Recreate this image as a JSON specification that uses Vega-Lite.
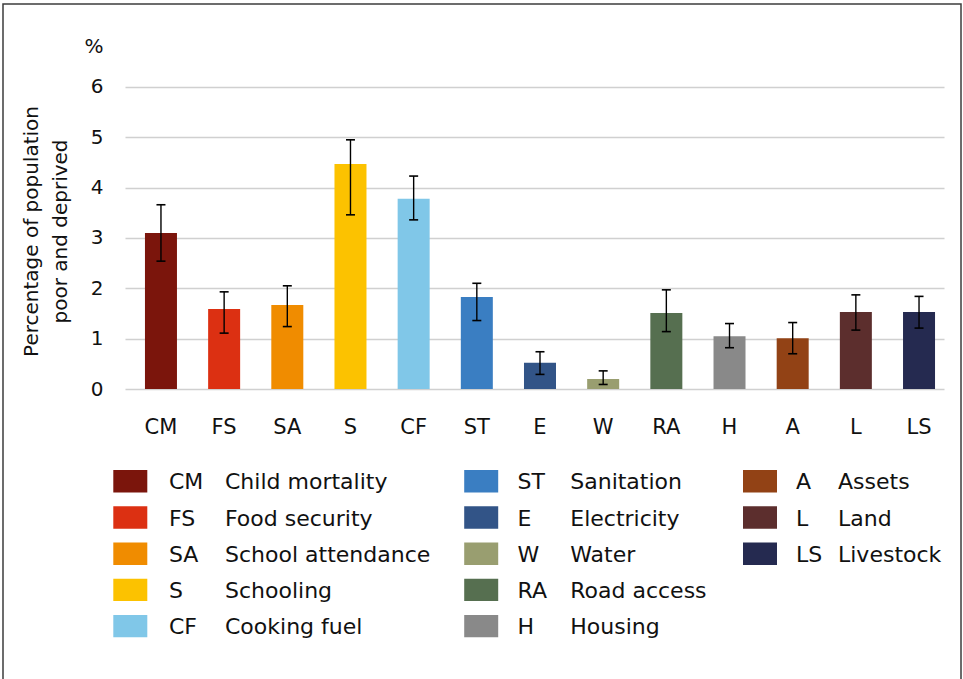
{
  "$schema": "https://vega.github.io/schema/vega-lite/v6.json",
  "width": 958,
  "height": 675,
  "autosize": "none",
  "padding": {"left": 3, "top": 4, "right": 2, "bottom": 0},
  "background": "white",
  "config": {
    "font": "DejaVu Sans",
    "view": {"stroke": "#3c3c3c", "strokeWidth": 1.5, "strokeDash": [1633, 958, 676, 0]},
    "text": {"color": "#111111"}
  },
  "data": {
    "values": [
      {"code": "CM", "name": "Child mortality", "value": 3.10, "lo": 2.54, "hi": 3.66, "col": 1, "row": 1},
      {"code": "FS", "name": "Food security", "value": 1.59, "lo": 1.11, "hi": 1.93, "col": 1, "row": 2},
      {"code": "SA", "name": "School attendance", "value": 1.67, "lo": 1.24, "hi": 2.05, "col": 1, "row": 3},
      {"code": "S", "name": "Schooling", "value": 4.47, "lo": 3.46, "hi": 4.95, "col": 1, "row": 4},
      {"code": "CF", "name": "Cooking fuel", "value": 3.78, "lo": 3.36, "hi": 4.23, "col": 1, "row": 5},
      {"code": "ST", "name": "Sanitation", "value": 1.83, "lo": 1.36, "hi": 2.10, "col": 2, "row": 1},
      {"code": "E", "name": "Electricity", "value": 0.52, "lo": 0.29, "hi": 0.74, "col": 2, "row": 2},
      {"code": "W", "name": "Water", "value": 0.20, "lo": 0.09, "hi": 0.36, "col": 2, "row": 3},
      {"code": "RA", "name": "Road access", "value": 1.51, "lo": 1.14, "hi": 1.97, "col": 2, "row": 4},
      {"code": "H", "name": "Housing", "value": 1.05, "lo": 0.82, "hi": 1.30, "col": 2, "row": 5},
      {"code": "A", "name": "Assets", "value": 1.01, "lo": 0.70, "hi": 1.32, "col": 3, "row": 1},
      {"code": "L", "name": "Land", "value": 1.53, "lo": 1.17, "hi": 1.87, "col": 3, "row": 2},
      {"code": "LS", "name": "Livestock", "value": 1.53, "lo": 1.21, "hi": 1.84, "col": 3, "row": 3}
    ]
  },
  "layer": [
    {
      "encoding": {
        "x": {
          "field": "code", "type": "nominal", "sort": null,
          "scale": {"range": [122, 941], "paddingInner": 0.4934, "paddingOuter": 0.229, "align": 0.69},
          "axis": {
            "title": null, "orient": "bottom", "offset": -290, "ticks": false, "domain": false,
            "grid": false, "labelAngle": 0, "labelPadding": 27, "labelFontSize": 21,
            "labelColor": "#111111"
          }
        }
      },
      "layer": [
        {
          "mark": {"type": "bar"},
          "encoding": {
            "y": {
              "field": "value", "type": "quantitative",
              "scale": {"domain": [0, 6.8], "range": [385, 42.7], "nice": false},
              "axis": {
                "values": [0, 1, 2, 3, 4, 5, 6, 6.8],
                "labelExpr": "datum.value > 6.5 ? '%' : format(datum.value, 'd')",
                "grid": true, "gridColor": "#d0d0d0", "gridWidth": 1.3,
                "gridOpacity": {"condition": {"test": "datum.value > 6.5", "value": 0}, "value": 1},
                "ticks": false, "domain": false, "offset": -104, "labelPadding": 4,
                "labelFontSize": 20, "labelColor": "#111111",
                "title": ["Percentage of population", "poor and deprived"],
                "titleFontSize": 20, "titleFontWeight": "normal", "titleColor": "#111111",
                "titleLineHeight": 29, "titlePadding": 13, "titleY": 227
              }
            },
            "color": {
              "field": "code", "type": "nominal",
              "scale": {
                "domain": ["CM", "FS", "SA", "S", "CF", "ST", "E", "W", "RA", "H", "A", "L", "LS"],
                "range": ["#7b150c", "#dc3012", "#f08c00", "#fcc200", "#80c7e8", "#3a7ec2", "#325487", "#999e70", "#566f50", "#898989", "#924215", "#5c2e2d", "#252a50"]
              },
              "legend": null
            }
          }
        },
        {
          "mark": {"type": "rule", "color": "#000000", "strokeWidth": 1.4},
          "encoding": {
            "y": {"field": "lo", "type": "quantitative"},
            "y2": {"field": "hi"}
          }
        },
        {
          "mark": {"type": "tick", "color": "#000000", "size": 9, "thickness": 1.6, "opacity": 1},
          "encoding": {"y": {"field": "lo", "type": "quantitative"}}
        },
        {
          "mark": {"type": "tick", "color": "#000000", "size": 9, "thickness": 1.6, "opacity": 1},
          "encoding": {"y": {"field": "hi", "type": "quantitative"}}
        }
      ]
    },
    {
      "encoding": {
        "y": {
          "field": "row", "type": "quantitative",
          "scale": {"domain": [1, 5], "range": [477.3, 622.1]},
          "axis": null
        }
      },
      "layer": [
        {
          "mark": {"type": "point", "shape": "M-1,-0.66H1V0.66H-1Z", "filled": true, "size": 1156, "opacity": 1},
          "encoding": {
            "x": {"field": "col", "type": "quantitative", "scale": {"type": "pow", "exponent": 0.565, "domain": [1, 3], "range": [127.3, 757]}, "axis": null},
            "color": {"field": "code", "type": "nominal", "legend": null}
          }
        },
        {
          "mark": {"type": "text", "align": "left", "baseline": "middle", "fontSize": 22, "dy": 1, "color": "#111111"},
          "encoding": {
            "x": {"field": "col", "type": "quantitative", "scale": {"type": "pow", "exponent": 0.575, "domain": [1, 3], "range": [166, 793]}, "axis": null},
            "text": {"field": "code"}
          }
        },
        {
          "mark": {"type": "text", "align": "left", "baseline": "middle", "fontSize": 22, "dy": 1, "color": "#111111"},
          "encoding": {
            "x": {"field": "col", "type": "quantitative", "scale": {"type": "pow", "exponent": 0.52, "domain": [1, 3], "range": [222, 835]}, "axis": null},
            "text": {"field": "name"}
          }
        }
      ],
      "resolve": {"scale": {"x": "independent"}}
    }
  ],
  "resolve": {"scale": {"x": "independent", "y": "independent"}}
}
